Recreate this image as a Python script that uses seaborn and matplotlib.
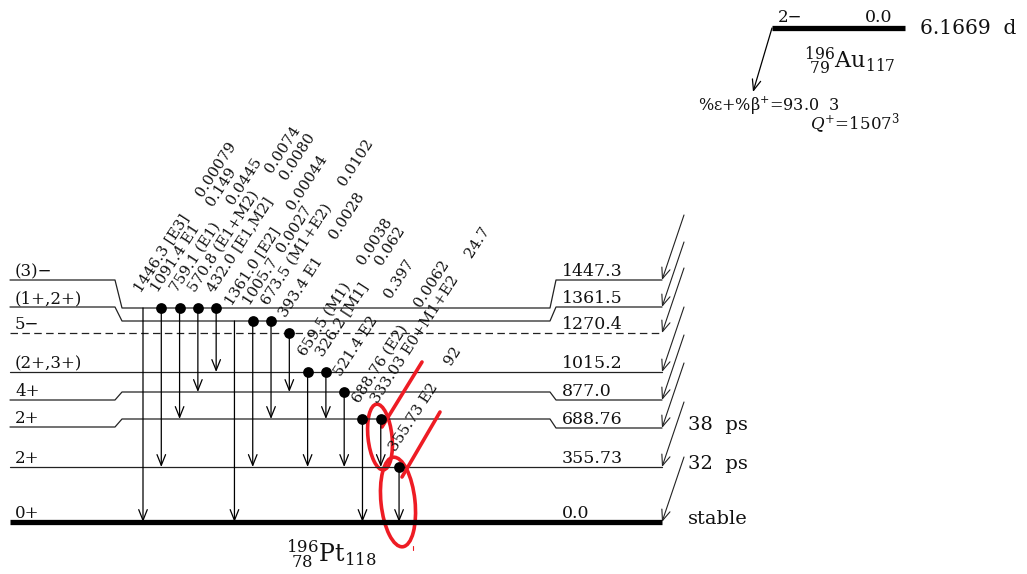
import numpy as np
import seaborn as sns
import matplotlib.pyplot as plt
from matplotlib.patches import Ellipse

# levels of 196Pt fed in the 196Au decay
level_energy = [0.0, 355.73, 688.76, 877.0, 1015.2, 1270.4, 1361.5, 1447.3]
level_text = ["0.0", "355.73", "688.76", "877.0", "1015.2", "1270.4", "1361.5", "1447.3"]
level_spin = ["0+", "2+", "2+", "4+", "(2+,3+)", "5−", "(1+,2+)", "(3)−"]
level_halflife = ["stable", "32  ps", "38  ps", "", "", "", "", ""]

# gamma rays: energy, multipolarity, intensity, initial and final level
gamma_energy = ["1446.3", "1091.4", "759.1", "570.8", "432.0", "1361.0", "1005.7", "673.5",
                "393.4", "659.5", "326.2", "521.4", "688.76", "333.03", "355.73"]
gamma_mult = ["[E3]", "E1", "(E1)", "(E1+M2)", "[E1,M2]", "[E2]", "", "(M1+E2)",
              "E1", "(M1)", "[M1]", "E2", "(E2)", "E0+M1+E2", "E2"]
gamma_intensity = ["0.00079", "0.149", "0.0445", "0.0074", "0.0080", "0.00044", "0.0027", "0.0102",
                   "0.0028", "0.0038", "0.062", "0.397", "0.0062", "24.7", "92"]
gamma_from = [1447.3, 1447.3, 1447.3, 1447.3, 1447.3, 1361.5, 1361.5, 1361.5,
              1270.4, 1015.2, 1015.2, 877.0, 688.76, 688.76, 355.73]
gamma_to = [0.0, 355.73, 688.76, 877.0, 1015.2, 0.0, 355.73, 688.76,
            877.0, 355.73, 688.76, 355.73, 0.0, 355.73, 0.0]
gamma_coin = [False, True, True, True, True, False, True, True,
              True, True, True, True, True, True, True]

# parent 196Au
parent_spin = "2−"
parent_energy = "0.0"
parent_halflife = "6.1669  d"
branching = "%ε+%β$^{+}$=93.0  $\\mathit{3}$"
qvalue = "$Q^{+}$=1507$^{3}$"

# drawing layout (pixel rows of each level: left part, middle part, right part)
row_left = [522, 467, 427, 400, 372, 333, 307, 280]
row_mid = [522, 467, 419, 392, 372, 333, 321, 308]
row_right = [522, 467, 428, 400, 372, 333, 307, 280]
seg_x = [10, 115, 122, 550, 556, 662]
gamma_x0, gamma_dx = 143, 18.29
label_angle = 57

sns.set_theme(style="white")
plt.rcParams['font.family'] = ['DejaVu Serif']
plt.rcParams['mathtext.fontset'] = 'dejavuserif'

fig = plt.figure(figsize=(10.27, 5.74), dpi=100)
ax = fig.add_axes([0, 0, 1, 1])
ink = '#111111'
head = '->,head_length=0.55,head_width=0.22'

mid = dict(zip(level_energy, row_mid))

for i, e in enumerate(level_energy):
    ys = [row_left[i], row_left[i], row_mid[i], row_mid[i], row_right[i], row_right[i]]
    if e == 0.0:
        ax.plot(seg_x, ys, color='black', lw=3.8, solid_capstyle='butt')
    elif e == 1270.4:
        ax.plot(seg_x, ys, color='#222222', lw=0.9, ls=(0, (6, 3.5)))
    else:
        ax.plot(seg_x, ys, color='#222222', lw=0.9)
    ax.text(15, row_left[i] - 4, level_spin[i], fontsize=12, color=ink, va='baseline')
    ax.text(562, row_right[i] - 4, level_text[i], fontsize=12.5, color=ink, va='baseline')
    if level_halflife[i]:
        ax.text(688, row_right[i] - 3, level_halflife[i], fontsize=14, color=ink, va='center')
    # feeding from the parent
    ax.annotate("", xy=(662, row_right[i]), xytext=(684, row_right[i] - 65),
                arrowprops=dict(arrowstyle=head, lw=0.8, color='#222222',
                                shrinkA=0, shrinkB=0, mutation_scale=14))

# gamma transitions
gx = gamma_x0 + gamma_dx * np.arange(len(gamma_energy))
for k in range(len(gamma_energy)):
    y0, y1 = mid[gamma_from[k]], mid[gamma_to[k]]
    ax.annotate("", xy=(gx[k], y1), xytext=(gx[k], y0),
                arrowprops=dict(arrowstyle=head, lw=0.9, color='black',
                                shrinkA=0, shrinkB=0, mutation_scale=14))
    if gamma_mult[k]:
        txt = f"{gamma_energy[k]} {gamma_mult[k]}     {gamma_intensity[k]}"
    else:
        txt = f"{gamma_energy[k]}  {gamma_intensity[k]}"
    ax.text(gx[k] - 3, y0 - 15, txt, rotation=label_angle, rotation_mode='anchor',
            ha='left', va='baseline', fontsize=10.8, color=ink)

dots_x = [gx[k] for k in range(len(gx)) if gamma_coin[k]]
dots_y = [mid[gamma_from[k]] for k in range(len(gx)) if gamma_coin[k]]
sns.scatterplot(x=dots_x, y=dots_y, color='black', s=60, linewidth=0, ax=ax, legend=False, zorder=5)

ax.text(331, 553, r"$^{196}_{\ 78}\mathrm{Pt}_{118}$", fontsize=17, color=ink, ha='center', va='center')

# parent level
ax.plot([772, 905], [28, 28], color='black', lw=3.8, solid_capstyle='butt')
ax.text(778, 22, parent_spin, fontsize=12, color=ink, va='baseline')
ax.text(865, 22, parent_energy, fontsize=12.5, color=ink, va='baseline')
ax.text(920, 28, parent_halflife, fontsize=14.5, color=ink, va='center')
ax.text(850, 61, r"$^{196}_{\ 79}\mathrm{Au}_{117}$", fontsize=16, color=ink, ha='center', va='center')
ax.annotate("", xy=(753, 92), xytext=(772, 28),
            arrowprops=dict(arrowstyle=head, lw=0.9, color='black',
                            shrinkA=0, shrinkB=0, mutation_scale=14))
ax.text(698, 105, branching, fontsize=11.5, color=ink, va='center')
ax.text(810, 124, qvalue, fontsize=12, color=ink, va='center')

# red hand marks
red = '#ee1c24'
ax.add_patch(Ellipse((380, 437), 24, 66, angle=-6, fill=False, ec=red, lw=2.6))
ax.add_patch(Ellipse((398, 502), 34, 90, angle=-6, fill=False, ec=red, lw=2.6))
ax.plot([382, 422], [427, 362], color=red, lw=2.6)
ax.plot([402, 440], [477, 412], color=red, lw=2.6)
ax.plot([413, 413], [546, 550], color=red, lw=0.8)

ax.set_xlim(0, 1027)
ax.set_ylim(574, 0)
ax.axis('off')
fig.savefig("out.png", dpi=100)
